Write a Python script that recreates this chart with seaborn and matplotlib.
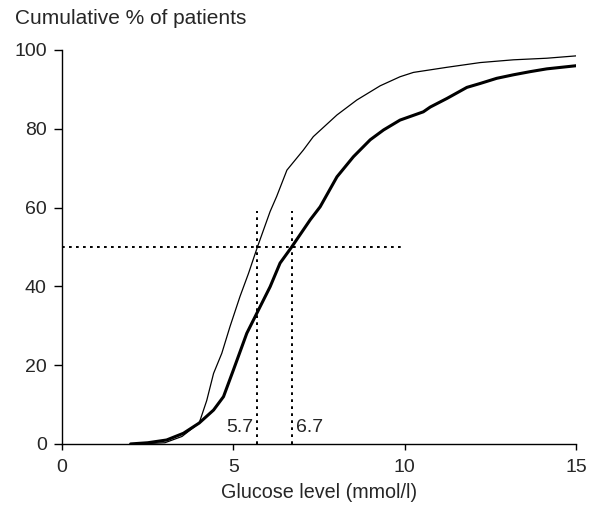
import numpy as np
import pandas as pd
import matplotlib
matplotlib.use("Agg")
import matplotlib.pyplot as plt
import seaborn as sns

# curve: lower glucose group (thin line)
thin_x = [2.0, 2.5, 3.0, 3.5, 4.0, 4.22, 4.42, 4.66, 4.9, 5.19, 5.44, 5.7, 6.07, 6.26,
          6.56, 7.04, 7.33, 8.02, 8.6, 9.28, 9.86, 10.25, 11.23, 12.2, 13.17, 14.14, 15.0]
thin_y = [0.0, 0.1, 0.3, 1.9, 5.3, 11.0, 17.9, 23.0, 29.8, 37.4, 43.3, 50.0, 59.0, 62.8,
          69.5, 74.6, 78.0, 83.5, 87.3, 90.9, 93.2, 94.3, 95.6, 96.8, 97.5, 97.9, 98.5]

# higher glucose group (thick line)
thick_x = [2.0, 2.5, 3.05, 3.54, 4.0, 4.42, 4.71, 5.0, 5.39, 5.73, 6.07, 6.36, 6.7, 7.24, 7.53,
           8.02, 8.5, 8.99, 9.38, 9.86, 10.54, 10.74, 11.23, 11.81, 12.2, 12.68, 13.17, 13.66,
           14.14, 15.0]
thick_y = [0.0, 0.3, 1.0, 2.7, 5.3, 8.6, 12.0, 18.8, 28.1, 34.0, 39.9, 45.9, 50.0, 56.9, 60.2,
           67.8, 72.9, 77.2, 79.7, 82.2, 84.3, 85.5, 87.7, 90.5, 91.5, 92.8, 93.7, 94.5,
           95.2, 96.0]

medians = [5.7, 6.7]
median_labels = ["5.7", "6.7"]

sns.set_style("ticks")
plt.rcParams['font.family'] = ['Liberation Sans', 'DejaVu Sans']

fig = plt.figure(figsize=(5.91, 5.15), dpi=100)
ax = fig.add_axes([0.105, 0.138, 0.870, 0.765])

df_thin = pd.DataFrame({"x": thin_x, "y": thin_y})
df_thick = pd.DataFrame({"x": thick_x, "y": thick_y})
sns.lineplot(data=df_thin, x="x", y="y", ax=ax, color="black", linewidth=0.9)
sns.lineplot(data=df_thick, x="x", y="y", ax=ax, color="black", linewidth=2.2)

# dotted reference lines
ax.plot([0, 10], [50, 50], color="black", linestyle=(0, (1.4, 2.2)), linewidth=1.4)
for m in medians:
    ax.plot([m, m], [0, 59], color="black", linestyle=(0, (1.4, 2.2)), linewidth=1.4)

ax.text(medians[0] - 0.12, 2.0, median_labels[0], ha="right", va="bottom", fontsize=14)
ax.text(medians[1] + 0.12, 2.0, median_labels[1], ha="left", va="bottom", fontsize=14)

ax.set_xlim(0, 15)
ax.set_ylim(0, 100)
ax.set_xticks([0, 5, 10, 15])
ax.set_yticks([0, 20, 40, 60, 80, 100])
ax.tick_params(labelsize=14, width=1, color="black")
ax.tick_params(axis="x", length=4, pad=7)
ax.tick_params(axis="y", length=6, pad=5)
ax.set_xlabel("Glucose level (mmol/l)", fontsize=14.2, labelpad=5)
ax.set_ylabel("")
for s in ["left", "bottom"]:
    ax.spines[s].set_color("black")
    ax.spines[s].set_linewidth(1)
sns.despine(ax=ax)

fig.text(15 / 591, 1 - 18 / 515, "Cumulative % of patients", fontsize=15, ha="left", va="center")

fig.savefig("out.png", dpi=100)
